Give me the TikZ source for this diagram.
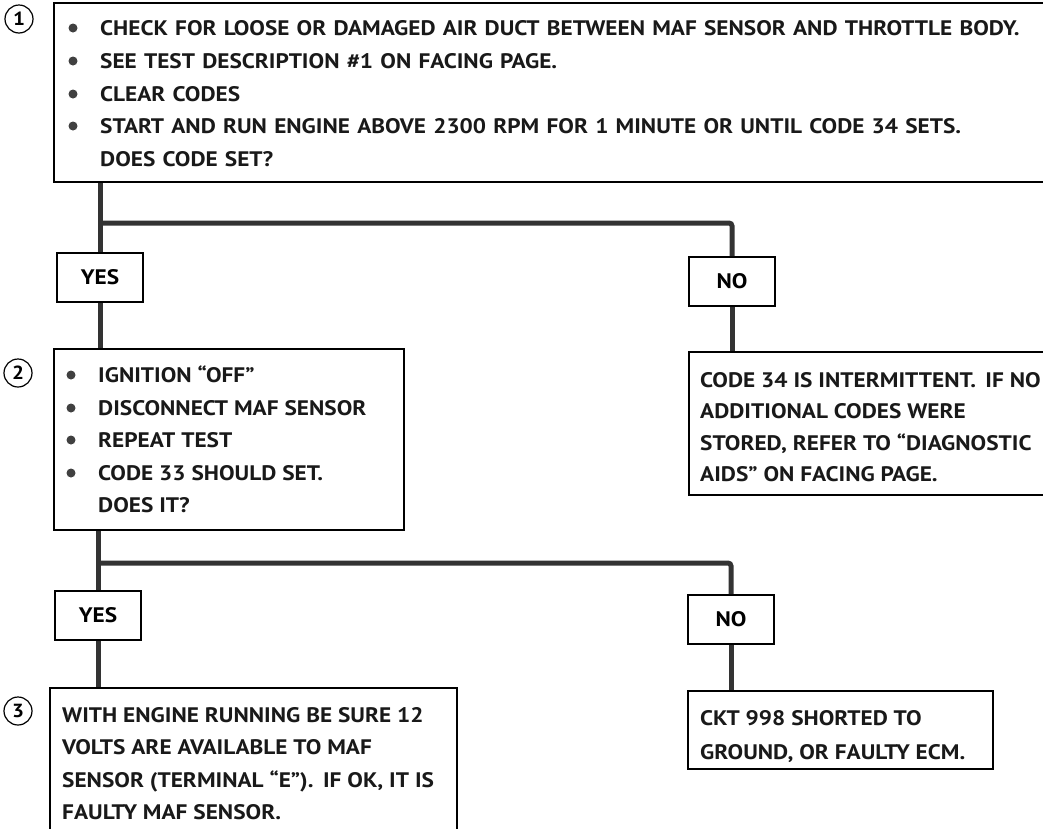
\documentclass[tikz,border=0pt]{standalone}
\usepackage{fontspec}
\setmainfont{PT Sans}[FakeStretch=1.11]
\newcommand\mywidesp{\spaceskip=7.2pt plus 1pt\relax}
\begin{document}
\begin{tikzpicture}[x=1pt,y=-1pt,
  box/.style={draw=black, line width=1.6pt, inner sep=0pt},
  tag/.style={draw=black, line width=1.6pt, minimum width=86pt, minimum height=49pt, inner sep=0pt, font=\fontsize{21}{25}\selectfont\bfseries},
  txt/.style={anchor=base west, inner sep=0pt, font=\fontsize{21}{25}\selectfont\bfseries, text=black!90},
  txtw/.style={txt, font={\fontsize{21}{25}\selectfont\bfseries\mywidesp}},
  dot/.style={circle, fill=black!75, inner sep=0pt, minimum size=9pt},
  num/.style={circle, draw=black, line width=1.2pt, minimum size=28pt, inner sep=0pt, font=\fontsize{19}{22}\selectfont\bfseries},
  trunk/.style={draw=black!80, line width=5pt, rounded corners=3pt}]
\useasboundingbox (0,0) rectangle (1043,828);
\fill[white] (0,0) rectangle (1043,828);

% boxes
\node[box, minimum width=1010pt, minimum height=179pt] (b1) at (559,92.5) {};
\node[tag] (yes1) at (100,277.5) {YES};
\node[tag] (no1) at (732,281.5) {NO};
\node[box, minimum width=350pt, minimum height=181pt] (b2) at (229,439.5) {};
\node[box, minimum width=360pt, minimum height=143pt] (r1) at (869,423.5) {};
\node[tag] (yes2) at (98,615.5) {YES};
\node[tag] (no2) at (731,619.5) {NO};
\node[box, minimum width=407pt, minimum height=160pt] (b3) at (253.5,768) {};
\node[box, minimum width=305pt, minimum height=78pt] (r2) at (840.5,730) {};

% numbers
\node[num] (n1) at (19,19) {1};
\node[num] (n2) at (18,373) {2};
\node[num] (n3) at (18,711) {3};

% connectors
\coordinate (j1) at (0,223);
\coordinate (j2) at (0,563);
\draw[trunk] (b1.south -| yes1.north) -- (yes1.north);
\draw[trunk] (yes1.north |- j1) -| (no1.north);
\draw[trunk] (yes1.south) -- (yes1.south |- b2.north);
\draw[trunk] (no1.south) -- (no1.south |- r1.north);
\draw[trunk] (b2.south -| yes2.north) -- (yes2.north);
\draw[trunk] (yes2.north |- j2) -| (no2.north);
\draw[trunk] (yes2.south) -- (yes2.south |- b3.north);
\draw[trunk] (no2.south) -- (no2.south |- r2.north);

% box 1 text
\node[dot] (d1a) at (73,28) {};
\node[dot] (d1b) at (73,61) {};
\node[dot] (d1c) at (73,94) {};
\node[dot] (d1d) at (73,126) {};
\node[txtw] (t1a) at (100,35.5) {CHECK FOR LOOSE OR DAMAGED AIR DUCT BETWEEN MAF SENSOR AND THROTTLE BODY.};
\node[txtw] (t1b) at (100,68.5) {SEE TEST DESCRIPTION \#1 ON FACING PAGE.};
\node[txtw] (t1c) at (100,101.5) {CLEAR CODES};
\node[txtw] (t1d) at (100,133.5) {START AND RUN ENGINE ABOVE 2300 RPM FOR 1 MINUTE OR UNTIL CODE 34 SETS.};
\node[txtw] (t1e) at (100,166.5) {DOES CODE SET?};

% box 2 text
\node[dot] (d2a) at (71,375) {};
\node[dot] (d2b) at (71,408) {};
\node[dot] (d2c) at (71,440) {};
\node[dot] (d2d) at (71,473) {};
\node[txt] (t2a) at (98,382.5) {IGNITION “OFF”};
\node[txt] (t2b) at (98,415.5) {DISCONNECT MAF SENSOR};
\node[txt] (t2c) at (98,447.5) {REPEAT TEST};
\node[txt] (t2d) at (98,480.5) {CODE 33 SHOULD SET.};
\node[txt] (t2e) at (98,512) {DOES IT?};

% result 1
\node[txt] (r1a) at (700,387.5) {CODE 34 IS INTERMITTENT.\hspace{0.45em}IF NO};
\node[txt] (r1b) at (700,418.5) {ADDITIONAL CODES WERE};
\node[txt] (r1c) at (700,450) {STORED, REFER TO “DIAGNOSTIC};
\node[txt] (r1d) at (700,481.5) {AIDS” ON FACING PAGE.};

% box 3
\node[txt] (t3a) at (62,722.5) {WITH ENGINE RUNNING BE SURE 12};
\node[txt] (t3b) at (62,754.5) {VOLTS ARE AVAILABLE TO MAF};
\node[txt] (t3c) at (62,787.5) {SENSOR (TERMINAL “E”).\hspace{0.45em}IF OK, IT IS};
\node[txt] (t3d) at (62,819.5) {FAULTY MAF SENSOR.};

% result 2
\node[txt] (r2a) at (700,725.5) {CKT 998 SHORTED TO};
\node[txt] (r2b) at (700,759.5) {GROUND, OR FAULTY ECM.};
\end{tikzpicture}
\end{document}
